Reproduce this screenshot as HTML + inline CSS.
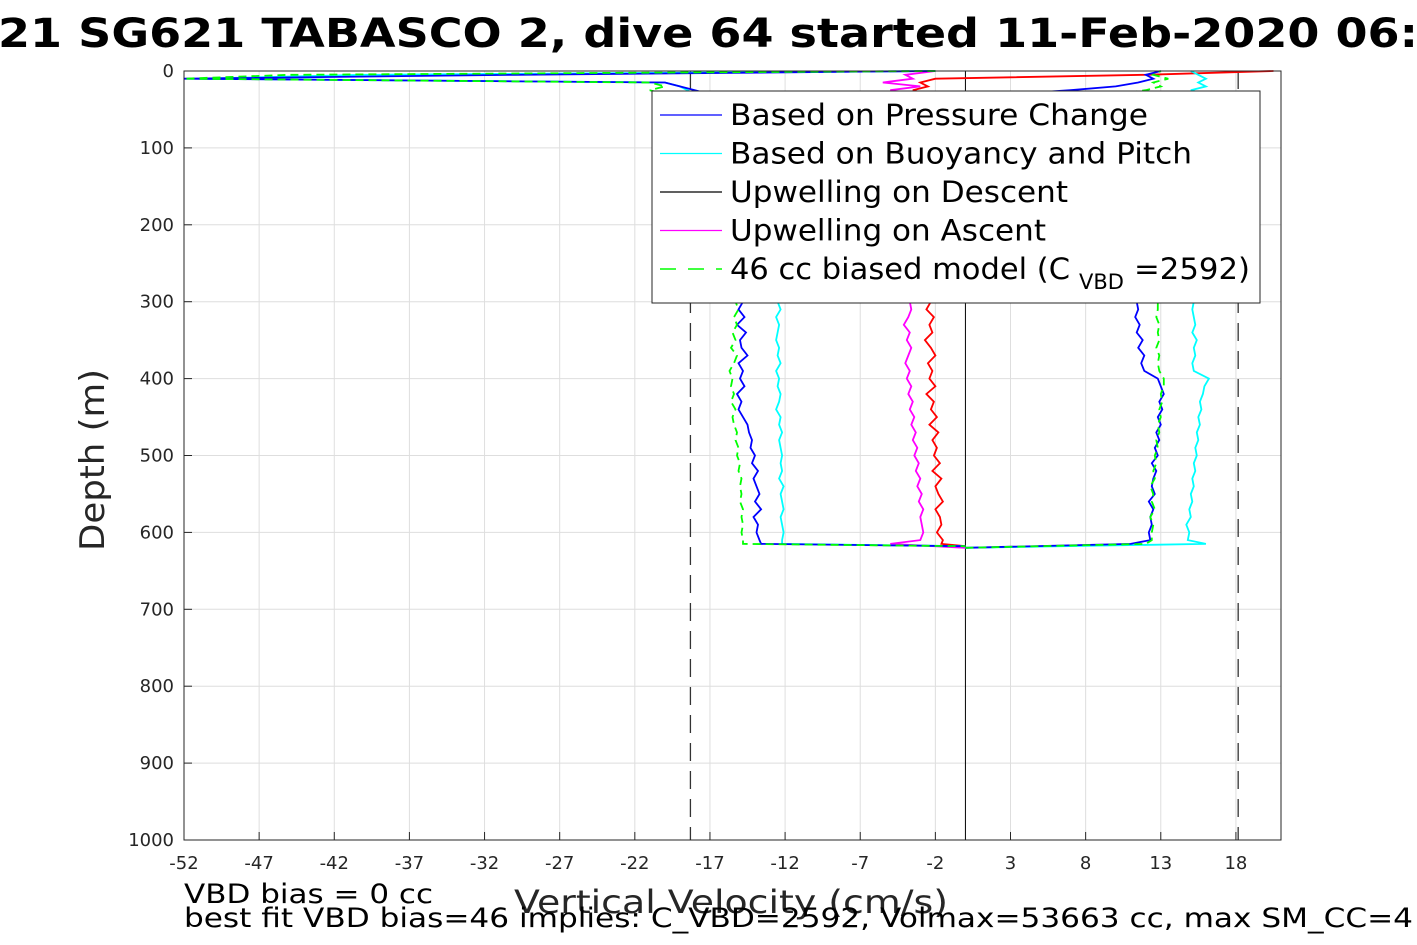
<!DOCTYPE html>
<html><head><meta charset="utf-8"><style>
html,body{margin:0;padding:0;background:#fff;}
svg{display:block;font-family:"DejaVu Sans","Liberation Sans",sans-serif;}
</style></head><body>
<svg id="chart" width="1417" height="945" viewBox="0 0 1417 945" xmlns="http://www.w3.org/2000/svg">
<rect x="0" y="0" width="1417" height="945" fill="#fff"/>
<text x="-2" y="47" font-size="40" font-weight="bold" fill="#000" textLength="1420" lengthAdjust="spacingAndGlyphs">21 SG621 TABASCO 2, dive 64 started 11-Feb-2020 06:</text>
<g id="grid"></g>
<g id="marks"></g>
<rect x="184" y="71" width="1097" height="769" fill="none" stroke="#262626" stroke-width="1"/>
<g id="ticks"></g>
<text transform="translate(104,460) rotate(-90)" text-anchor="middle" font-size="34" fill="#262626" textLength="182" lengthAdjust="spacingAndGlyphs">Depth (m)</text>
<text x="514" y="913" font-size="32" fill="#262626" textLength="434" lengthAdjust="spacingAndGlyphs">Vertical Velocity (cm/s)</text>
<text x="184" y="903" font-size="27" fill="#000" textLength="249" lengthAdjust="spacingAndGlyphs">VBD bias = 0 cc</text>
<text x="184" y="927" font-size="27" fill="#000" textLength="1229" lengthAdjust="spacingAndGlyphs">best fit VBD bias=46 implies: C_VBD=2592, Volmax=53663 cc, max SM_CC=4</text>
<g id="legend">
<rect x="652" y="91" width="608" height="212" fill="#fff" stroke="#262626" stroke-width="1"/>
</g>
</svg>
<script>
const xTicks=[-52,-47,-42,-37,-32,-27,-22,-17,-12,-7,-2,3,8,13,18];
const yTicks=[0,100,200,300,400,500,600,700,800,900,1000];
const descDepth=[0,5,10,15,20,25,30,100,200,300,310,320,330,340,350,360,370,380,390,400,410,420,430,440,450,460,470,480,490,500,510,520,530,540,550,560,570,580,590,600,610,615,618];
const ascDepth=[620,615,610,600,590,580,570,560,550,540,530,520,510,500,490,480,470,460,450,440,430,420,410,400,390,380,370,360,350,340,330,320,310,300,200,100,30,25,20,15,10,5,0];
const descPressure=[-2,-30,-52,-20,-19,-18,-17,-15,-15,-14.8,-15.1,-14.7,-15.2,-14.6,-15,-14.9,-14.5,-15.1,-14.8,-15,-14.7,-15.2,-14.9,-15.1,-14.8,-14.5,-14.4,-14.2,-14.3,-14,-14.2,-13.8,-14.1,-13.9,-13.7,-14,-13.6,-14.1,-13.8,-13.9,-13.7,-13.6,0];
const descBuoy=[-2,-40,-51,-20,-19,-18.5,-18,-13,-12.5,-12.5,-12.3,-12.6,-12.4,-12.5,-12.6,-12.4,-12.5,-12.3,-12.6,-12.4,-12.5,-12.3,-12.4,-12.6,-12.3,-12.4,-12.2,-12.4,-12.3,-12.2,-12.3,-12.2,-12.4,-12.1,-12.3,-12.2,-12.1,-12.3,-12.2,-12.1,-12.2,-12.2,0];
const descModel=[-2,-45,-52,-21,-20,-21,-20,-16,-15.5,-15.3,-15.1,-15.4,-15.2,-15.5,-15.3,-15.6,-15.2,-15.4,-15.7,-15.5,-15.6,-15.4,-15.6,-15.3,-15.5,-15.4,-15.2,-15.3,-15.1,-15.2,-15,-15.1,-14.9,-15,-14.9,-15,-14.8,-14.9,-14.8,-14.9,-14.8,-14.8,0];
const descUpwell=[20.5,12,-2,-3,-2.5,-3.5,-2.5,-2.5,-2.4,-2.3,-2.6,-2.1,-2.4,-2.2,-2.7,-2.3,-2,-2.5,-2.2,-2.4,-2,-2.6,-2.1,-2.3,-1.9,-2.4,-1.8,-2.2,-1.9,-2.1,-1.7,-2.2,-1.6,-2,-1.8,-1.5,-2,-1.7,-1.6,-1.9,-1.5,-1.6,0];
const ascPressure=[0,11,12.3,12.2,12.4,12.3,12.5,12.2,12.6,12.4,12.5,12.7,12.4,12.8,12.6,12.9,12.7,13,12.8,13.1,12.9,13.2,13,12.8,11.9,11.7,11.9,11.5,11.8,11.4,11.6,11.3,11.5,11.4,11.8,12,3,7,10,11.5,12.5,12,13];
const ascBuoy=[0,16,14.8,14.9,14.7,15,14.9,15.1,15,15.2,15.1,15.3,15.2,15.4,15.3,15.5,15.4,15.6,15.5,15.7,15.6,15.8,15.9,16.2,15.2,15.1,15.3,15.2,15.4,15.1,15.3,15.2,15.1,15.2,15.5,15.8,16,15,16,15.5,16,15.5,15];
const ascModel=[0,12,12.4,12.4,12.5,12.3,12.6,12.4,12.5,12.3,12.6,12.5,12.7,12.6,12.8,12.7,12.9,12.8,13,12.9,13.1,13,13.2,13.2,12.9,12.8,12.9,12.7,12.9,12.8,12.9,12.7,12.8,12.8,13,13,10,12,13,12.5,13.5,12.5,13];
const ascUpwell=[0,-5,-3,-2.8,-2.9,-3,-2.8,-3.1,-2.9,-3.2,-3,-3.3,-3.1,-3.4,-3.2,-3.5,-3.3,-3.6,-3.4,-3.7,-3.5,-3.8,-3.6,-3.9,-3.7,-4,-3.8,-3.6,-3.9,-3.7,-4.1,-3.8,-3.6,-3.7,-3.5,-3.5,-4,-5,-3,-5.5,-3.5,-4,-2];
const legendLabels=["Based on Pressure Change","Based on Buoyancy and Pitch","Upwelling on Descent","Upwelling on Ascent","46 cc biased model (C"];
const legendLens=[418,462,338,316,0];
const xMin=-52,xMax=21,yMin=0,yMax=1000;
const L=184,R=1281,T=71,B=840;
const NS="http://www.w3.org/2000/svg";
function sx(v){return L+(v-xMin)/(xMax-xMin)*(R-L);}
function sy(d){return T+(d-yMin)/(yMax-yMin)*(B-T);}
function mk(tag,attrs,parent){const e=document.createElementNS(NS,tag);for(const k in attrs)e.setAttribute(k,attrs[k]);parent.appendChild(e);return e;}
const grid=document.getElementById('grid'),ticks=document.getElementById('ticks'),marks=document.getElementById('marks');
xTicks.forEach(v=>{
 const g=mk('line',{x1:sx(v),x2:sx(v),y1:T,y2:B,stroke:'#dedede','stroke-width':1},grid);
 
 
 const t=mk('line',{x1:sx(v),x2:sx(v),y1:B,y2:B-8,stroke:'#262626'},ticks);
 
 
 const l=mk('text',{x:sx(v),y:869,'text-anchor':'middle','font-size':18,fill:'#262626'},ticks);
 l.textContent=v;
 
 
});
yTicks.forEach(d=>{
 const g=mk('line',{x1:L,x2:R,y1:sy(d),y2:sy(d),stroke:'#dedede','stroke-width':1},grid);
 
 
 const t=mk('line',{x1:L,x2:L+8,y1:sy(d),y2:sy(d),stroke:'#262626'},ticks);
 
 
 const l=mk('text',{x:174,y:sy(d)+6,'text-anchor':'end','font-size':18,fill:'#262626'},ticks);
 l.textContent=d;
 
 
});
const z=mk('line',{x1:sx(0),x2:sx(0),y1:T,y2:B,stroke:'#000','stroke-width':1},marks);


[-18.3,18.15].forEach(v=>{
 const d=mk('line',{x1:sx(v),x2:sx(v),y1:T,y2:B,stroke:'#333','stroke-width':1.3,'stroke-dasharray':'18,10'},marks);
 
 
});
function series(vals,depths,color,name,dash){
 const p=vals.map((v,i)=>(i?'L':'M')+sx(v).toFixed(1)+','+sy(depths[i]).toFixed(1)).join('');
 const e=mk('path',{d:p,fill:'none',stroke:color,'stroke-width':1.8},marks);
 if(dash)e.setAttribute('stroke-dasharray',dash);
 
 
}
series(descUpwell,descDepth,'#ff0000','red-descent-series');
series(ascUpwell,ascDepth,'#ff00ff','upwelling-ascent-series');
series(descBuoy,descDepth,'#00ffff','buoyancy-descent-series');
series(ascBuoy,ascDepth,'#00ffff','buoyancy-ascent-series');
series(descPressure,descDepth,'#0000ff','pressure-descent-series');
series(ascPressure,ascDepth,'#0000ff','pressure-ascent-series');
series(descModel,descDepth,'#00ff00','model-descent-series','8,5');
series(ascModel,ascDepth,'#00ff00','model-ascent-series','8,5');
const lg=document.getElementById('legend');
const lc=['#0000ff','#00ffff','#000000','#ff00ff','#00ff00'];
legendLabels.forEach((s,i)=>{
 const y=115+i*38.5;
 const ln=mk('line',{x1:660,x2:722,y1:y,y2:y,stroke:lc[i],'stroke-width':1.2},lg);
 if(i==4){ln.setAttribute('stroke-dasharray','16,12');ln.setAttribute('stroke-width',1.5);}
 
 
 const t=mk('text',{x:730,y:y+10,'font-size':29,fill:'#000'},lg);
 t.textContent=s;
 if(legendLens[i]){t.setAttribute('textLength',legendLens[i]);t.setAttribute('lengthAdjust','spacingAndGlyphs');}
 if(i==4){
  t.setAttribute('textLength',340);t.setAttribute('lengthAdjust','spacingAndGlyphs');
  const t2=mk('text',{x:1079,y:y+20,'font-size':21,fill:'#000'},lg);t2.textContent='VBD';
  
  
  const t3=mk('text',{x:1134,y:y+10,'font-size':29,fill:'#000',textLength:116,lengthAdjust:'spacingAndGlyphs'},lg);t3.textContent='=2592)';
  
  
 }
 
 
});
</script>
</body></html>
